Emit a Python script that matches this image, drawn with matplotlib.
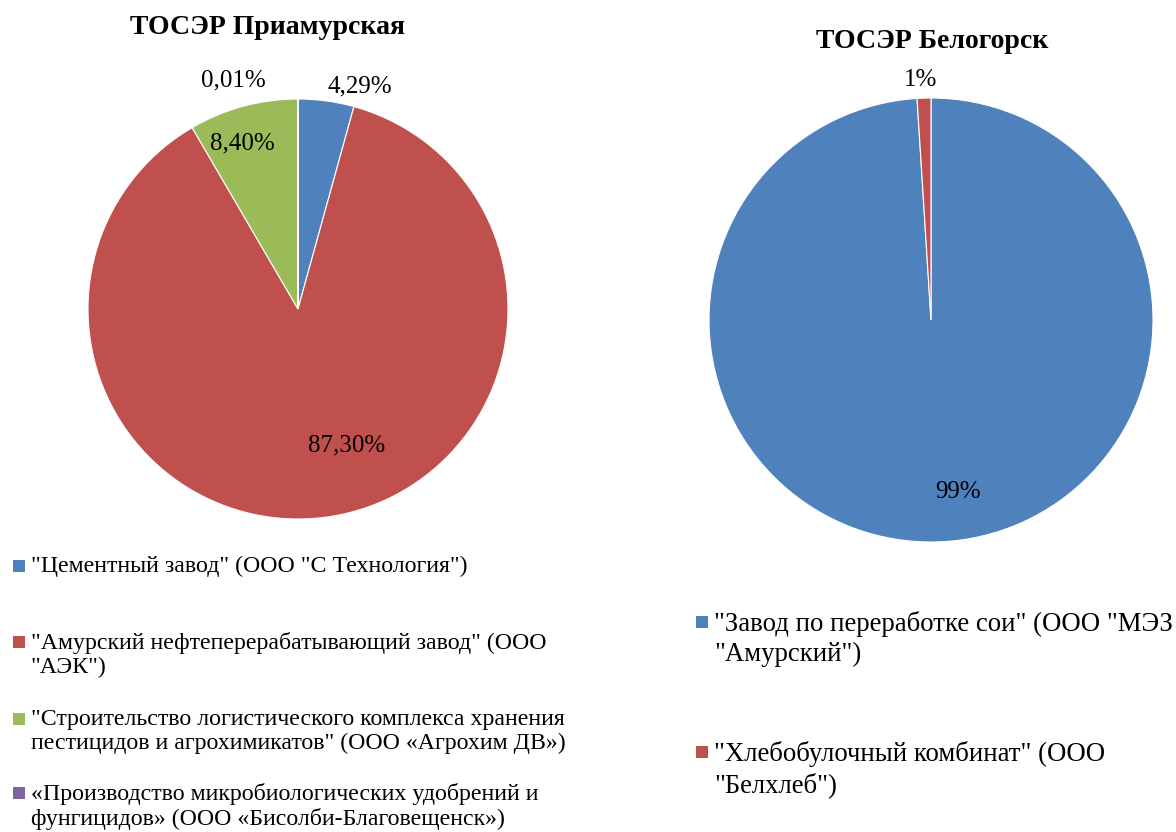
import matplotlib
matplotlib.use("Agg")
import matplotlib.pyplot as plt
import numpy as np

plt.rcParams['font.family'] = ['Liberation Serif', 'DejaVu Serif']

# --- data ---
left_title = "ТОСЭР Приамурская"
left_names = ['"Цементный завод" (ООО "С Технология")',
              '"Амурский нефтеперерабатывающий завод" (ООО\n"АЭК")',
              '"Строительство логистического комплекса хранения\nпестицидов и агрохимикатов" (ООО «Агрохим ДВ»)',
              '«Производство микробиологических удобрений и\nфунгицидов» (ООО «Бисолби-Благовещенск»)']
left_values = [4.29, 87.30, 8.40, 0.01]
left_labels = ["4,29%", "87,30%", "8,40%", "0,01%"]

right_title = "ТОСЭР Белогорск"
right_names = ['"Завод по переработке сои" (ООО "МЭЗ\n"Амурский")',
               '"Хлебобулочный комбинат" (ООО\n"Белхлеб")']
right_values = [99, 1]
right_labels = ["99%", "1%"]

colors = ['#4F81BD', '#C0504D', '#9BBB59', '#8064A2']

W, H = 1176, 832
fig = plt.figure(figsize=(W / 100, H / 100), dpi=100)


def pix_axes(cx, cy, r):
    return fig.add_axes([(cx - r) / W, 1 - (cy + r) / H, 2 * r / W, 2 * r / H])


# left pie
ax1 = pix_axes(298, 309, 210)
ax1.pie(left_values, colors=colors[:len(left_values)], startangle=90, counterclock=False,
        wedgeprops=dict(linewidth=0.8, edgecolor='white'))
ax1.set_xlim(-1, 1)
ax1.set_ylim(-1, 1)
ax1.set_aspect('equal')
ax1.axis('off')
left_pos = [(0.295, 1.06), (0.233, -0.648), (-0.267, 0.79), (-0.31, 1.09)]
for lab, (x, y) in zip(left_labels, left_pos):
    ax1.text(x, y, lab, ha='center', va='center', fontsize=18, clip_on=False)

# right pie
ax2 = pix_axes(931, 320, 222)
ax2.pie(right_values, colors=colors[:len(right_values)], startangle=90, counterclock=False,
        wedgeprops=dict(linewidth=0.8, edgecolor='white'))
ax2.set_xlim(-1, 1)
ax2.set_ylim(-1, 1)
ax2.set_aspect('equal')
ax2.axis('off')
right_pos = [(0.12, -0.775), (-0.045, 1.08)]
for lab, (x, y) in zip(right_labels, right_pos):
    ax2.text(x, y, lab, ha='center', va='center', fontsize=18, clip_on=False)

# titles
fig.text(267 / W, 1 - 27 / H, left_title, ha='center', va='center', fontsize=20, fontweight='bold')
fig.text(932 / W, 1 - 42 / H, right_title, ha='center', va='center', fontsize=20, fontweight='bold')

# legends (y = centre of first line, px)
left_leg_y = [566, 642, 719, 793]
for name, c, y in zip(left_names, colors, left_leg_y):
    fig.patches.append(plt.Rectangle((13 / W, 1 - (y + 6) / H), 12 / W, 12 / H,
                                     transform=fig.transFigure, facecolor=c, edgecolor='none'))
    fig.text(31 / W, 1 - (y - 10) / H, name, ha='left', va='top', fontsize=17.2,
             linespacing=1.2)

right_leg_y = [622, 752]
for name, c, y in zip(right_names, colors, right_leg_y):
    fig.patches.append(plt.Rectangle((696 / W, 1 - (y + 6) / H), 12 / W, 12 / H,
                                     transform=fig.transFigure, facecolor=c, edgecolor='none'))
    fig.text(714 / W, 1 - (y - 11) / H, name, ha='left', va='top', fontsize=19.3,
             linespacing=1.25)

fig.savefig("out.png", dpi=100)
